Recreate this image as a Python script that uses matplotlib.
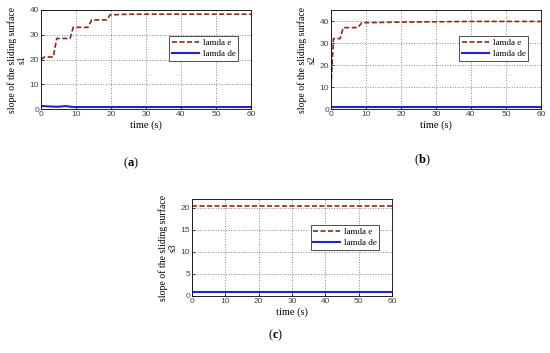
import matplotlib
matplotlib.use("Agg")
import matplotlib.pyplot as plt
import numpy as np

# panel (a)
t_a = [0, 1, 3.5, 4.5, 8.3, 9.2, 13.4, 14.5, 18.8, 19.7, 25, 60]
e_a = [20, 21, 21, 28.5, 28.5, 33, 33, 36, 36, 38, 38.3, 38.3]
t_de_a = [0, 3, 5, 7, 9, 60]
de_a = [1.2, 1.0, 0.9, 1.2, 0.8, 0.8]

# panel (b)
t_b = [0, 0.7, 2.6, 3.5, 7.7, 8.8, 20, 40, 60]
e_b = [10, 32, 32, 37, 37, 39.2, 39.5, 39.8, 39.8]
t_de_b = [0, 60]
de_b = [0.8, 0.8]

# panel (c)
t_c = [0, 60]
e_c = [20.5, 20.5]
t_de_c = [0, 60]
de_c = [1.0, 1.0]

x_ticks = [0, 10, 20, 30, 40, 50, 60]

serif = "Liberation Serif"
sans = "Liberation Sans"

plt.rcParams["mathtext.fontset"] = "custom"
plt.rcParams["mathtext.rm"] = serif
plt.rcParams["mathtext.bf"] = serif + ":bold"

fig = plt.figure(figsize=(5.5, 3.53), dpi=100)

def px(l, r, t, b):
    W, H = 550, 353
    return [l / W, 1 - b / H, (r - l) / W, (b - t) / H]

panels = [
    (px(41, 251, 10, 109), t_a, e_a, t_de_a, de_a, "s1", (0, 40), [0, 10, 20, 30, 40], "a", (131, 163)),
    (px(331, 541, 10, 109), t_b, e_b, t_de_b, de_b, "s2", (0, 45), [0, 10, 20, 30, 40], "b", (422, 160)),
    (px(192, 392, 199, 296), t_c, e_c, t_de_c, de_c, "s3", (0, 22), [0, 5, 10, 15, 20], "c", (276, 335)),
]

for rect, te, e, td, d, name, ylim, yt, cap, cpos in panels:
    ax = fig.add_axes(rect)
    ax.plot(te, e, color="#8b2a10", ls="--", lw=1.2, dashes=(3, 1.5), label="lamda e")
    ax.plot(td, d, color="#2222cc", lw=1.5, label="lamda de")
    ax.set_xlim(0, 60)
    ax.set_ylim(*ylim)
    ax.set_xticks(x_ticks)
    ax.set_yticks(yt)
    ax.grid(True, ls=":", color="#888888", lw=0.7)
    ax.tick_params(direction="in", length=2, width=0.5, labelsize=6,
                   labelcolor="#444444", pad=1.5)
    for lab in ax.get_xticklabels() + ax.get_yticklabels():
        lab.set_family(sans)
    for s in ax.spines.values():
        s.set_linewidth(0.6)
    ax.set_xlabel("time (s)", family=serif, fontsize=7.5, labelpad=2)
    ax.set_ylabel("slope of the sliding surface\n" + name, family=serif,
                  fontsize=7, labelpad=2, linespacing=1.1)
    leg = ax.legend(loc="upper right", bbox_to_anchor=(0.96, 0.78),
                    prop={"family": serif, "size": 6.5}, fancybox=False,
                    framealpha=1, edgecolor="#333333", handlelength=3,
                    borderpad=0.3, labelspacing=0.3, handletextpad=0.4)
    leg.get_frame().set_linewidth(0.6)
    # caption: normal parentheses around a bold letter
    fig.text(cpos[0] / 550, 1 - cpos[1] / 353, "($\\mathbf{" + cap + "}$)",
             family=serif, fontsize=9, ha="center", va="center")

fig.savefig("out.png", dpi=100)
